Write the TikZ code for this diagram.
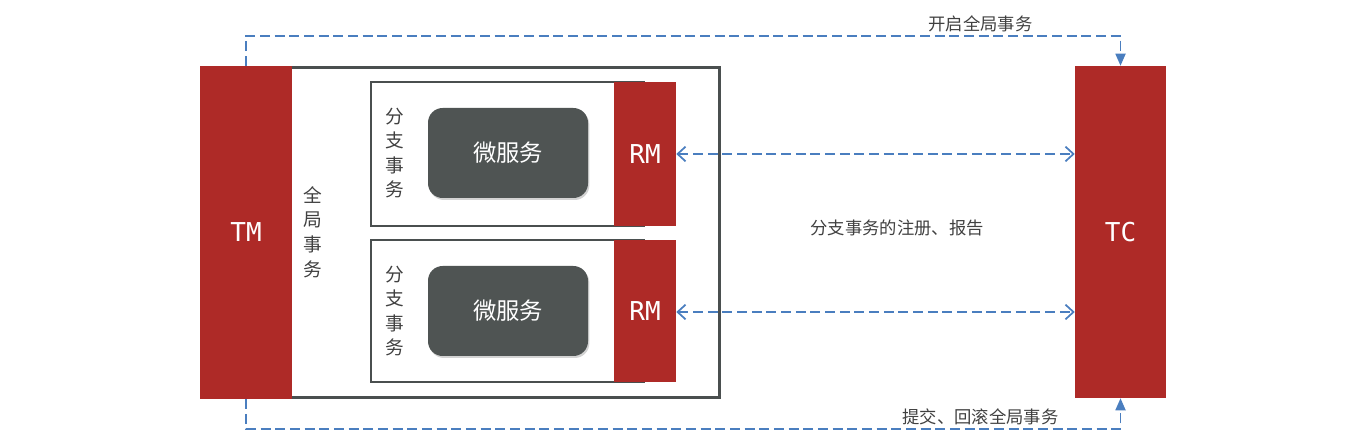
\documentclass[tikz,border=0pt]{standalone}
\usepackage{fontspec}
\newfontfamily\cjk{Noto Sans CJK SC}
\newfontfamily\monofont{DejaVu Sans Mono}
\usetikzlibrary{arrows.meta,shadows}
\definecolor{mgred}{HTML}{AE2A27}
\definecolor{mggray}{HTML}{4F5453}
\definecolor{mgline}{HTML}{4A4F4F}
\definecolor{mgblue}{HTML}{4A7EBF}
\definecolor{mgtext}{HTML}{404040}
\begin{document}
\begin{tikzpicture}[x=0.75pt, y=-0.75pt,
    redbar/.style={draw=none, fill=mgred, text=white, inner sep=0pt,
                   font=\monofont\fontsize{19.5}{20}\selectfont},
    svc/.style={fill=mggray, rounded corners=11pt, text=white,
                minimum width=120pt, minimum height=67.5pt,
                font=\cjk\fontsize{17.5}{20}\selectfont,
                drop shadow={opacity=0.35, shadow xshift=1pt, shadow yshift=-1.5pt}},
    vlabel/.style={align=center, text=mgtext, inner sep=0pt,
                   font=\cjk\fontsize{14}{18.4}\selectfont},
    note/.style={text=mgtext, font=\cjk\fontsize{13}{15}\selectfont},
    bluedash/.style={draw=mgblue, line width=1.3pt, dash pattern=on 7.5pt off 3.5pt},
    arr/.style={bluedash, {Straight Barb[length=6pt,width=11pt]}-{Straight Barb[length=6pt,width=11pt]}},
    call/.style={bluedash, -{Triangle[length=9pt,width=7.5pt]}}
  ]
  \useasboundingbox (0,0) rectangle (1358,448);
  % Global transaction
  \draw[draw=mgline, line width=2.25pt] (285,68) rectangle (719,397);
  \node[vlabel] (glabel) at (313,232) {全\\局\\事\\务};
  % Branch transactions
  \draw[draw=mgline, line width=1.1pt] (371,82) rectangle (644,226);
  \draw[draw=mgline, line width=1.1pt] (371,240) rectangle (644,382);
  \node[vlabel] (blabel1) at (395,153) {分\\支\\事\\务};
  \node[vlabel] (blabel2) at (395,311) {分\\支\\事\\务};
  \node[svc] (svc1) at (508,153) {微服务};
  \node[svc] (svc2) at (508,311) {微服务};
  \node[redbar, minimum width=46.5pt, minimum height=108pt] (rm1) at (645,154) {RM};
  \node[redbar, minimum width=46.5pt, minimum height=106.5pt] (rm2) at (645,311) {RM};
  % TM and TC
  \node[redbar, minimum width=69pt, minimum height=249.75pt] (tm) at (246,232.5) {TM};
  \node[redbar, minimum width=68.25pt, minimum height=249pt] (tc) at (1120.5,232) {TC};
  % Registration and report
  \draw[arr] (rm1.east) -- (rm1.east -| tc.west);
  \draw[arr] (rm2.east |- 0,312) -- (tc.west |- 0,312);
  \node[note] (reg) at (897,228) {分支事务的注册、报告};
  % Begin / commit, rollback
  \draw[call] (tm.north) -- ++(0,-30) -| node[note, above, pos=0.42, yshift=-1pt] (begin) {开启全局事务} (tc.north);
  \draw[call] (tm.south) -- ++(0,29.5) -| node[note, above, pos=0.42, yshift=-1pt] (end) {提交、回滚全局事务} (tc.south);
\end{tikzpicture}
\end{document}
